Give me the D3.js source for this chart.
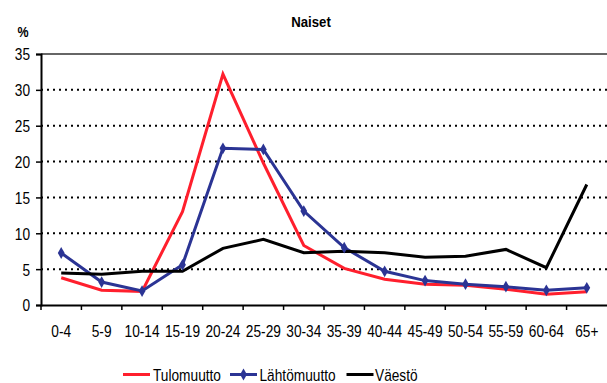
<!DOCTYPE html>
<html><head><meta charset="utf-8">
<script src="https://cdn.jsdelivr.net/npm/d3@7"></script>
<style>body{margin:0;background:#fff}svg{display:block;font-family:"Liberation Sans",Arial,sans-serif}</style>
</head><body><svg id="c" width="607" height="383"></svg>
<script>
const categories = ["0-4","5-9","10-14","15-19","20-24","25-29","30-34","35-39","40-44","45-49","50-54","55-59","60-64","65+"];
const tulomuutto = [3.8,2.05,1.9,13.0,32.2,19.8,8.3,5.1,3.6,2.9,2.75,2.2,1.5,1.85];
const lahtomuutto = [7.25,3.2,1.95,5.6,21.85,21.7,13.1,8.0,4.7,3.4,2.9,2.55,2.05,2.4];
const vaesto = [4.45,4.3,4.7,4.7,7.9,9.15,7.3,7.5,7.3,6.65,6.8,7.75,5.2,16.8];
const yTicks = [0,5,10,15,20,25,30,35];
const seriesNames = ["Tulomuutto","Lähtömuutto","Väestö"];
const colors = ["#ff1f2d","#2b3494","#000000"];

const SX = 0.83, FS = 16.5;
const svg = d3.select("#c");
const x = d3.scaleBand().domain(categories).range([41, 607]);
const y = d3.scaleLinear().domain([0,35]).range([305, 54]);

// gridlines
svg.append("g").selectAll("line").data(yTicks.filter(t=>t>0 && t<35)).join("line")
  .attr("x1",41).attr("x2",607).attr("y1",d=>y(d)).attr("y2",d=>y(d))
  .attr("stroke","#000").attr("stroke-width",2).attr("stroke-dasharray","2,4");
svg.append("line").attr("x1",41).attr("x2",607).attr("y1",y(35)).attr("y2",y(35))
  .attr("stroke","#333").attr("stroke-width",1.5);

// y axis
const ya = svg.append("g").attr("transform","translate(41,0)")
  .call(d3.axisLeft(y).tickValues(yTicks).tickSize(5).tickPadding(6));
ya.select(".domain").attr("stroke","#000").attr("stroke-width",2);
ya.selectAll(".tick line").attr("stroke","#000").attr("stroke-width",1.5);
ya.selectAll("text").attr("font-size",FS).attr("fill","#000").attr("font-family","Liberation Sans, Arial")
  .attr("x",-11/SX).attr("dy","0.36em").attr("transform",`scale(${SX},1)`);

// x axis
const xa = svg.append("g").attr("transform","translate(0,305)")
  .call(d3.axisBottom(x).tickSize(0).tickPadding(0));
xa.select(".domain").attr("stroke","#000").attr("stroke-width",2);
xa.selectAll("text").attr("font-size",FS).attr("fill","#000").attr("font-family","Liberation Sans, Arial")
  .attr("y",32).attr("dy",null).attr("transform",`scale(${SX},1)`);
svg.append("g").selectAll("line").data(categories).join("line")
  .attr("x1",d=>x(d)).attr("x2",d=>x(d)).attr("y1",305).attr("y2",310)
  .attr("stroke","#000").attr("stroke-width",1.5);

// lines
const line = d3.line().x((d,i)=>x(categories[i])+x.bandwidth()/2).y(d=>y(d));
const data = [tulomuutto, lahtomuutto, vaesto];
data.forEach((s,k)=>{
  svg.append("path").datum(s).attr("d",line).attr("fill","none")
    .attr("stroke",colors[k]).attr("stroke-width",3).attr("stroke-linejoin","miter");
});
const diamond = d3.symbol().type(d3.symbolDiamond).size(40);
svg.append("g").selectAll("path").data(lahtomuutto).join("path")
  .attr("d",diamond)
  .attr("transform",(d,i)=>`translate(${x(categories[i])+x.bandwidth()/2},${y(d)})`)
  .attr("fill",colors[1]);

// title
svg.append("g").attr("transform","translate(311,26.5) scale(0.88,1)")
  .append("text").attr("text-anchor","middle").attr("font-size",15).attr("font-weight","bold").text("Naiset");
svg.append("g").attr("transform","translate(17.5,36.5) scale(0.83,1)")
  .append("text").attr("font-size",15).attr("font-weight","bold").text("%");

// legend
const legX = [123, 230, 346.5];
const textX = [153, 259.5, 375];
seriesNames.forEach((n,k)=>{
  svg.append("line").attr("x1",legX[k]).attr("x2",legX[k]+27).attr("y1",374.5).attr("y2",374.5)
    .attr("stroke",colors[k]).attr("stroke-width",3);
  if(k===1) svg.append("path").attr("d",diamond).attr("transform",`translate(${legX[k]+13.5},374.5)`).attr("fill",colors[1]);
  svg.append("g").attr("transform",`translate(${textX[k]},380.5) scale(${SX},1)`)
    .append("text").attr("font-size",FS).text(n);
});
</script></body></html>
